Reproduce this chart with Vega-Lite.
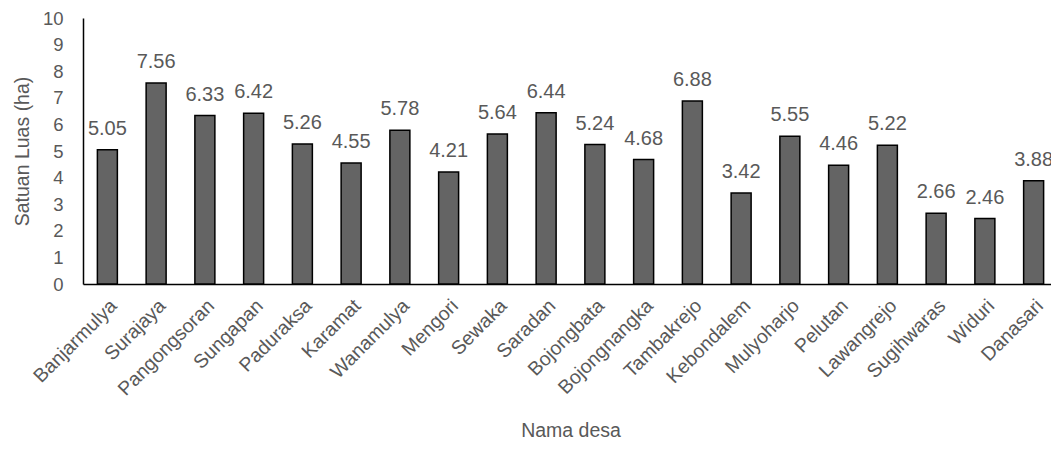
{
  "$schema": "https://vega.github.io/schema/vega-lite/v6.json",
  "width": 968,
  "height": 266,
  "autosize": {"type": "none"},
  "padding": {"left": 83, "top": 18, "right": 0, "bottom": 165},
  "background": "white",
  "config": {
    "view": {"stroke": null},
    "font": "Liberation Sans",
    "axis": {"labelFont": "Liberation Sans", "titleFont": "Liberation Sans", "labelColor": "#595959", "titleColor": "#595959", "titleFontWeight": "normal", "grid": false, "ticks": false, "domainColor": "#000000", "domainWidth": 1.5}
  },
  "data": {
    "values": [
      {"desa": "Banjarmulya", "luas": 5.05},
      {"desa": "Surajaya", "luas": 7.56},
      {"desa": "Pangongsoran", "luas": 6.33},
      {"desa": "Sungapan", "luas": 6.42},
      {"desa": "Paduraksa", "luas": 5.26},
      {"desa": "Karamat", "luas": 4.55},
      {"desa": "Wanamulya", "luas": 5.78},
      {"desa": "Mengori", "luas": 4.21},
      {"desa": "Sewaka", "luas": 5.64},
      {"desa": "Saradan", "luas": 6.44},
      {"desa": "Bojongbata", "luas": 5.24},
      {"desa": "Bojongnangka", "luas": 4.68},
      {"desa": "Tambakrejo", "luas": 6.88},
      {"desa": "Kebondalem", "luas": 3.42},
      {"desa": "Mulyoharjo", "luas": 5.55},
      {"desa": "Pelutan", "luas": 4.46},
      {"desa": "Lawangrejo", "luas": 5.22},
      {"desa": "Sugihwaras", "luas": 2.66},
      {"desa": "Widuri", "luas": 2.46},
      {"desa": "Danasari", "luas": 3.88}
    ]
  },
  "encoding": {
    "x": {
      "field": "desa", "type": "nominal", "sort": null,
      "scale": {"range": [0, 975], "paddingInner": 0.59, "paddingOuter": 0.295},
      "axis": {"title": "Nama desa", "labelAngle": -45, "labelAlign": "right", "labelBaseline": "top", "labelFontSize": 19.5, "titleFontSize": 19.5, "labelPadding": 12, "titlePadding": 23}
    },
    "y": {
      "field": "luas", "type": "quantitative",
      "scale": {"domain": [0, 10]},
      "axis": {"title": "Satuan Luas (ha)", "values": [0,1,2,3,4,5,6,7,8,9,10], "labelFontSize": 18.5, "titleFontSize": 19.5, "labelPadding": 20, "titlePadding": 10}
    }
  },
  "layer": [
    {"mark": {"type": "bar", "fill": "#646464", "stroke": "#000000", "strokeWidth": 1.5}},
    {"mark": {"type": "text", "baseline": "alphabetic", "dy": -15, "fontSize": 20, "color": "#595959", "font": "Liberation Sans"},
     "encoding": {"text": {"field": "luas", "type": "quantitative", "format": ".2f"}}}
  ]
}
